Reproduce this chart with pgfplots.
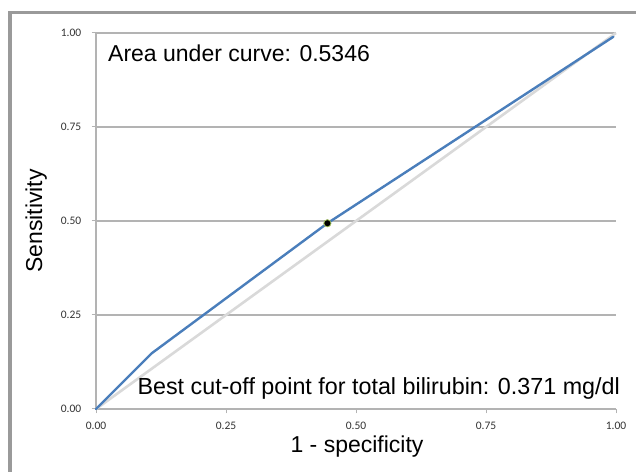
\documentclass[border=0pt]{standalone}
\usepackage{pgfplots}
\pgfplotsset{compat=1.18}
\usepackage{fontspec}
\setmainfont{Liberation Sans}
\newfontfamily\carlito{Carlito}
\definecolor{rocblue}{HTML}{4A7EBB}
\definecolor{diaggray}{HTML}{D9D9D9}
\definecolor{gridgray}{HTML}{B3B3B3}
\definecolor{framegray}{HTML}{9A9A9A}
\definecolor{dotrim}{HTML}{9BBB59}
\newcommand{\bigfont}{\fontsize{23bp}{27bp}\selectfont}
\begin{document}
\begin{tikzpicture}
\useasboundingbox (0bp,0bp) rectangle (636bp,472bp);
\draw[framegray, line width=4bp] (10bp,0bp) -- (10bp,461bp);
\draw[framegray, line width=3.5bp] (8bp,459.5bp) -- (636bp,459.5bp);
\begin{axis}[
  at={(96bp,63bp)}, anchor=south west,
  scale only axis, width=520bp, height=376bp,
  xmin=0, xmax=1, ymin=0, ymax=1,
  axis lines*=left,
  axis line style={gridgray, line width=1.2bp},
  ymajorgrids,
  grid style={gridgray, line width=1.2bp},
  xtick={0,0.25,0.5,0.75,1}, ytick={0,0.25,0.5,0.75,1},
  tick align=outside, major tick length=4.5bp,
  tick style={gridgray, line width=1bp},
  /pgf/number format/.cd, fixed, fixed zerofill, precision=2, assume math mode=true, /pgfplots/.cd,
  tick label style={font=\carlito\fontsize{11.5bp}{13bp}\selectfont, text=black!80},
  xticklabel style={anchor=north, inner sep=0pt, yshift=-8bp},
  yticklabel style={anchor=east, inner sep=0pt, xshift=-10bp},
  xlabel={1 - specificity},
  ylabel={Sensitivity},
  label style={font=\bigfont},
  xlabel style={at={(axis description cs:0.502,-0.117)}, anchor=base},
  ylabel style={at={(axis description cs:-0.115,0.5)}, anchor=center, rotate=0},
  clip=false,
]
\addplot[diaggray, line width=2.6bp] coordinates {(0,0) (1,1)};
\addplot[rocblue, line width=2.4bp, line join=round, line cap=round] coordinates {
  (0,0) (0.107,0.148) (0.445,0.494) (0.995,0.99)
};
\addplot[only marks, mark=*, mark size=3.6bp, mark options={fill=black, draw=dotrim, line width=0.8bp}] coordinates {(0.445,0.494)};
\end{axis}
\node[anchor=base west, inner sep=0pt, font=\bigfont] at (108bp,410.3bp) {Area under curve: 0.5346};
\node[anchor=base east, inner sep=0pt, font=\fontsize{23.3bp}{27bp}\selectfont] at (620bp,77bp) {Best cut-off point for total bilirubin: 0.371 mg/dl};
\end{tikzpicture}
\end{document}
